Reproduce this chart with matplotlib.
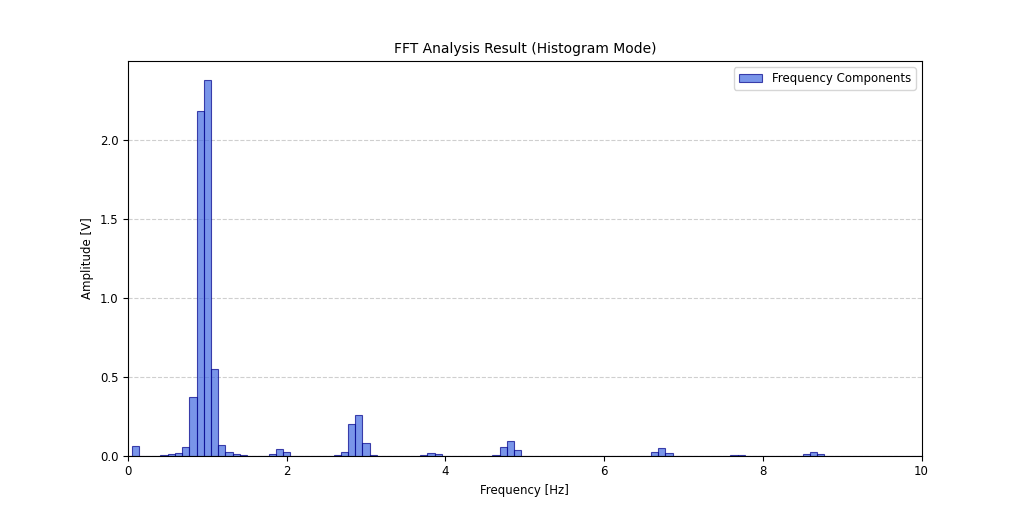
import numpy as np
import matplotlib.pyplot as plt

plt.rcParams['font.size'] = 8.5

# frequency bins (spacing 1/11 Hz) and amplitudes
df = 10 / 110
bins = np.arange(0, 111)
amp = np.zeros(len(bins))
peaks = {1: 0.063, 5: 0.005, 6: 0.01, 7: 0.017, 8: 0.057, 9: 0.37,
         10: 2.18, 11: 2.38, 12: 0.55, 13: 0.07, 14: 0.022, 15: 0.01,
         16: 0.004, 20: 0.012, 21: 0.04, 22: 0.022,
         29: 0.005, 30: 0.024, 31: 0.20, 32: 0.26, 33: 0.08, 34: 0.006,
         41: 0.005, 42: 0.017, 43: 0.013,
         51: 0.004, 52: 0.057, 53: 0.093, 54: 0.034,
         73: 0.025, 74: 0.047, 75: 0.02, 84: 0.006, 85: 0.006,
         94: 0.01, 95: 0.023, 96: 0.01}
for k, v in peaks.items():
    amp[k] = v
freqs = bins * df

fig, ax = plt.subplots(figsize=(10.24, 5.12), dpi=100)
ax.bar(freqs, amp, width=df, color='royalblue', alpha=0.7,
       edgecolor='darkblue', linewidth=0.8, label='Frequency Components')
ax.set_xlim(0, 10)
ax.set_ylim(0, 2.495)
ax.set_title('FFT Analysis Result (Histogram Mode)', fontsize=10)
ax.set_xlabel('Frequency [Hz]')
ax.set_ylabel('Amplitude [V]')
ax.grid(axis='y', linestyle='--', alpha=0.6)
ax.set_axisbelow(True)
ax.legend(loc='upper right')
plt.savefig('out.png', dpi=100)
